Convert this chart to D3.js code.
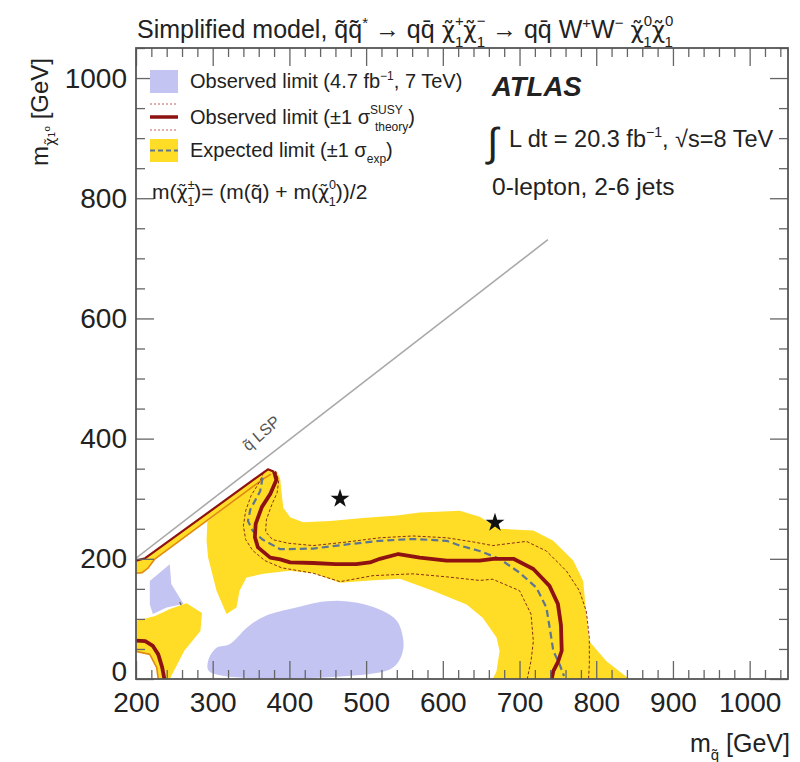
<!DOCTYPE html>
<html><head><meta charset="utf-8">
<script src="https://cdn.jsdelivr.net/npm/d3@7"></script>
<style>
body{margin:0;background:#fff}
text{font-family:"Liberation Sans",Arial,Helvetica,sans-serif;fill:#222}
</style>
</head><body>
<svg id="chart" width="800" height="762"></svg>
<script>
// ---------------- data (GeV) ----------------
const xTicks = [200,300,400,500,600,700,800,900,1000];
const yTicks = [0,200,400,600,800,1000];
const diagonal = [[200,201],[737,731]];
const stars = [[466,300],[668,260]];

const lavenderSmall = [[218,124],[218,163],[244,191],[246,158],[262,125],[240,119],[222,108]];
const lavenderBig = [[296,12],[294,30],[305,52],[322,58],[344,85],[357,97],[375,108],[409,119],[435,127],[466,130],[496,125],[522,113],[540,97],[548,69],[548,47],[540,25],[522,12]];
const obs7TeVSegment = [[257,128],[268,98]];

const stripBand = [[200,197],[212,201],[372,350],[381,346],[376,336],[366,332],[224,199],[216,185],[208,177],[200,176]];
const mainBand = [[293,262],[366,334],[376,344],[384,345],[388,333],[390,308],[392,285],[401,269],[418,261],[453,263],[496,268],[540,272],[570,277],[622,280],[648,270],[674,250],[718,247],[744,230],[770,197],[783,163],[787,108],[791,63],[813,30],[843,0],[665,0],[670,13],[674,47],[670,69],[652,102],[631,124],[587,147],[544,167],[505,164],[466,160],[431,176],[400,180],[366,175],[344,169],[335,147],[331,119],[318,108],[305,147],[294,202],[292,230]];
const lowerLeftBand = [[200,97],[225,105],[245,117],[266,126],[286,110],[284,80],[263,47],[250,15],[244,0],[229,0],[227,19],[218,41],[200,46]];

const observedDiagonal = [[200,197],[212,201],[372,349],[380,345]];
const observed = [[380,345],[383,331],[375,308],[364,286],[356,258],[355,236],[359,219],[375,202],[388,199],[401,194],[431,193],[460,191],[487,191],[505,194],[518,200],[542,208],[570,202],[605,197],[648,197],[666,200],[692,200],[718,183],[739,155],[750,125],[754,90],[755,47],[750,28],[744,13],[742,0]];
const observedLowerLeft = [[200,64],[212,63],[222,55],[229,41],[234,20],[237,0]];
const stripLower = [[200,176],[208,177],[216,185],[224,199],[366,333],[376,341]];
const lowerLeftInner = [[200,46],[218,41],[227,19],[229,0]];
const observedUp = [[382,346],[386,330],[384,310],[377,290],[370,265],[369,245],[378,232],[398,226],[431,222],[475,228],[518,235],[561,238],[605,235],[640,228],[665,222],[690,226],[709,229],[735,213],[761,180],[778,147],[787,113],[791,69],[791,25],[790,0]];
const observedDown = [[366,343],[362,330],[350,305],[343,280],[340,255],[343,232],[352,214],[368,197],[390,185],[431,176],[466,162],[509,172],[561,175],[605,170],[648,164],[665,166],[700,147],[715,108],[718,63],[715,30],[710,0]];
const expected = [[365,335],[362,313],[349,282],[346,263],[352,247],[365,232],[388,216],[431,217],[475,224],[518,230],[561,233],[605,230],[622,222],[648,213],[674,200],[700,177],[722,152],[735,119],[740,80],[744,47],[752,25],[758,5]];

// ---------------- styles ----------------
const C = {yellow:"#FFDC26", lav:"#C4C4F2", red:"#8E1212", thin:"#8a2d12", dash:"#5d7592", gray:"#a9a9a9", axis:"#555"};

const svg = d3.select("#chart");
const x = d3.scaleLinear().domain([200,1050]).range([136,788]);
const y = d3.scaleLinear().domain([0,1050]).range([679,48]);

svg.append("defs").append("clipPath").attr("id","clip")
  .append("rect").attr("x",136).attr("y",48).attr("width",652).attr("height",631);
const plot = svg.append("g").attr("clip-path","url(#clip)");

const line = d3.line().x(d=>x(d[0])).y(d=>y(d[1]));
const closed = d3.line().x(d=>x(d[0])).y(d=>y(d[1])).curve(d3.curveLinearClosed);
const smooth = d3.line().x(d=>x(d[0])).y(d=>y(d[1])).curve(d3.curveCatmullRomClosed.alpha(0.5));

plot.append("path").attr("d",closed(lavenderSmall)).attr("fill",C.lav);
plot.append("path").attr("d",smooth(lavenderBig)).attr("fill",C.lav);
plot.append("path").attr("d",line(obs7TeVSegment)).attr("fill","none").attr("stroke","#6a5a50").attr("stroke-width",1.2);

[stripBand, mainBand, lowerLeftBand].forEach(b=>
  plot.append("path").attr("d",closed(b)).attr("fill",C.yellow));

plot.append("path").attr("d",line(diagonal)).attr("fill","none").attr("stroke",C.gray).attr("stroke-width",1.6);

function drawLine(data, color, w, dash){
  const p = plot.append("path").attr("d",line(data)).attr("fill","none")
    .attr("stroke",color).attr("stroke-width",w).attr("stroke-linejoin","round");
  if(dash) p.attr("stroke-dasharray",dash);
}
drawLine(stripLower, "#e08a10", 1.6);
drawLine(lowerLeftInner, "#e08a10", 1.6);
drawLine(observedUp, C.thin, 1, "3,2");
drawLine(observedDown, C.thin, 1, "3,2");
drawLine(expected, C.dash, 2.2, "7,4");
drawLine(observedDiagonal, C.red, 2.2);
drawLine(observed, C.red, 3.8);
drawLine(observedLowerLeft, C.red, 3.8);

const star = d3.symbol().type(d3.symbolStar).size(110);
plot.selectAll(".star").data(stars).join("path")
  .attr("d",star).attr("transform",d=>`translate(${x(d[0])},${y(d[1])})`).attr("fill","#111");

// diagonal label
svg.append("text").attr("transform",`translate(${x(368)},${y(402)}) rotate(-41)`)
  .attr("text-anchor","middle").attr("font-size",16).style("fill","#555").text("q\u0303 LSP");

// ---------------- axes ----------------
const minorX = d3.range(200,1051,20).filter(v=>v%100!==0);
const minorY = d3.range(0,1051,50).filter(v=>v%200!==0);
function styleAxis(g){
  g.select(".domain").remove();
  g.selectAll("line").attr("stroke","#666").attr("stroke-width",1.3);
  g.selectAll("text").attr("font-size",28).style("fill","#222").attr("font-family",'"Liberation Sans",Arial,sans-serif');
}
svg.append("g").attr("transform","translate(0,679)")
  .call(d3.axisBottom(x).tickValues(xTicks).tickSize(-18).tickPadding(13).tickFormat(d3.format("d"))).call(styleAxis);
svg.append("g").attr("transform","translate(0,679)")
  .call(d3.axisBottom(x).tickValues(minorX).tickSize(-9).tickFormat("")).call(styleAxis);
svg.append("g").attr("transform","translate(0,48)")
  .call(d3.axisTop(x).tickValues(xTicks).tickSize(-18).tickFormat("")).call(styleAxis);
svg.append("g").attr("transform","translate(0,48)")
  .call(d3.axisTop(x).tickValues(minorX).tickSize(-9).tickFormat("")).call(styleAxis);
const yAxisG = svg.append("g").attr("transform","translate(136,0)")
  .call(d3.axisLeft(y).tickValues(yTicks).tickSize(-18).tickPadding(9).tickFormat(d3.format("d"))).call(styleAxis);
yAxisG.selectAll(".tick").filter(d=>d===0).select("text").attr("dy","0.05em");
svg.append("g").attr("transform","translate(136,0)")
  .call(d3.axisLeft(y).tickValues(minorY).tickSize(-9).tickFormat("")).call(styleAxis);
svg.append("g").attr("transform","translate(788,0)")
  .call(d3.axisRight(y).tickValues(yTicks).tickSize(-18).tickFormat("")).call(styleAxis);
svg.append("g").attr("transform","translate(788,0)")
  .call(d3.axisRight(y).tickValues(minorY).tickSize(-9).tickFormat("")).call(styleAxis);
svg.append("rect").attr("x",136).attr("y",48).attr("width",652).attr("height",631)
  .attr("fill","none").attr("stroke",C.axis).attr("stroke-width",1.8);

// ---------------- rich text helper ----------------
const GREEK = "DejaVu Sans";
function rich(sel, parts, fs){
  let cur = 0;
  const small = fs*0.6;
  parts.forEach(p=>{
    if(p.t!==undefined){
      const ts = sel.append("tspan").attr("dy",-cur).attr("font-size",p.g?fs*0.92:fs).text(p.t);
      if(p.g) ts.attr("font-family",GREEK);
      cur=0;
    } else if(p.sup!==undefined && p.sub!==undefined){
      const tsup=-fs*0.48, tsub=fs*0.34;
      sel.append("tspan").attr("dy",tsup-cur).attr("font-size",small).text(p.sup);
      sel.append("tspan").attr("dx",-small*0.58*p.sup.length).attr("dy",tsub-tsup).attr("font-size",small).text(p.sub);
      cur=tsub;
    } else if(p.sup!==undefined){
      const t=-fs*0.42;
      sel.append("tspan").attr("dy",t-cur).attr("font-size",small).text(p.sup); cur=t;
    } else if(p.sub!==undefined){
      const t=fs*0.3;
      const ts = sel.append("tspan").attr("dy",t-cur).attr("font-size",small).text(p.sub); cur=t;
      if(p.g) ts.attr("font-family",GREEK);
    }
  });
  return sel;
}
const chi="\u03C7\u0303", sq="q\u0303", qbar="q\u0304";

// title
rich(svg.append("text").attr("x",137).attr("y",38),
  [{t:"Simplified model, "},{t:sq+sq},{sup:"*"},{t:" \u2192 q"+qbar+" "},{t:chi,g:1},{sub:"1",sup:"+"},{t:chi,g:1},{sub:"1",sup:"\u2212"},
   {t:" \u2192 q"+qbar+" W"},{sup:"+"},{t:"W"},{sup:"\u2212"},{t:"  "},{t:chi,g:1},{sub:"1",sup:"0"},{t:chi,g:1},{sub:"1",sup:"0"}], 25);

// axis titles
rich(svg.append("text").attr("transform","translate(48,58) rotate(-90)").attr("text-anchor","end"),
  [{t:"m"},{sub:chi+"\u2081\u2070",g:1},{t:" [GeV]"}], 24);
rich(svg.append("text").attr("x",790).attr("y",752).attr("text-anchor","end"),
  [{t:"m"},{sub:sq},{t:" [GeV]"}], 25);

// legend
const lg = svg.append("g");
lg.append("rect").attr("x",150).attr("y",70).attr("width",28).attr("height",23).attr("fill",C.lav);
lg.append("line").attr("x1",150).attr("x2",178).attr("y1",117).attr("y2",117).attr("stroke",C.red).attr("stroke-width",3.5);
[104,130].forEach(v=>lg.append("line").attr("x1",150).attr("x2",178).attr("y1",v).attr("y2",v)
  .attr("stroke","#c06060").attr("stroke-width",1).attr("stroke-dasharray","2,2"));
lg.append("rect").attr("x",150).attr("y",139).attr("width",28).attr("height",23).attr("fill",C.yellow);
lg.append("line").attr("x1",150).attr("x2",178).attr("y1",150.5).attr("y2",150.5).attr("stroke",C.dash).attr("stroke-width",2).attr("stroke-dasharray","5,3");
rich(lg.append("text").attr("x",190).attr("y",88),[{t:"Observed limit (4.7 fb"},{sup:"\u22121"},{t:", 7 TeV)"}],20);
rich(lg.append("text").attr("x",190).attr("y",124),[{t:"Observed limit (\u00B11 \u03C3"},{sub:"theory",sup:"SUSY"},{t:")"}],20);
rich(lg.append("text").attr("x",190).attr("y",157),[{t:"Expected limit (\u00B11 \u03C3"},{sub:"exp"},{t:")"}],20);
rich(lg.append("text").attr("x",152).attr("y",199),
  [{t:"m("},{t:chi,g:1},{sub:"1",sup:"\u00B1"},{t:")= (m("+sq+") + m("},{t:chi,g:1},{sub:"1",sup:"0"},{t:"))/2"}],21);

// ATLAS label
svg.append("text").attr("x",492).attr("y",96).attr("font-size",27.5).attr("font-weight","bold").attr("font-style","italic").text("ATLAS");
svg.append("text").attr("x",487).attr("y",156).attr("font-size",40).text("\u222B");
rich(svg.append("text").attr("x",509).attr("y",147),[{t:"L dt = 20.3 fb"},{sup:"\u22121"},{t:",  \u221As=8 TeV"}],23.5);
svg.append("text").attr("x",492).attr("y",195).attr("font-size",24.5).text("0-lepton, 2-6 jets");
</script>
</body></html>
